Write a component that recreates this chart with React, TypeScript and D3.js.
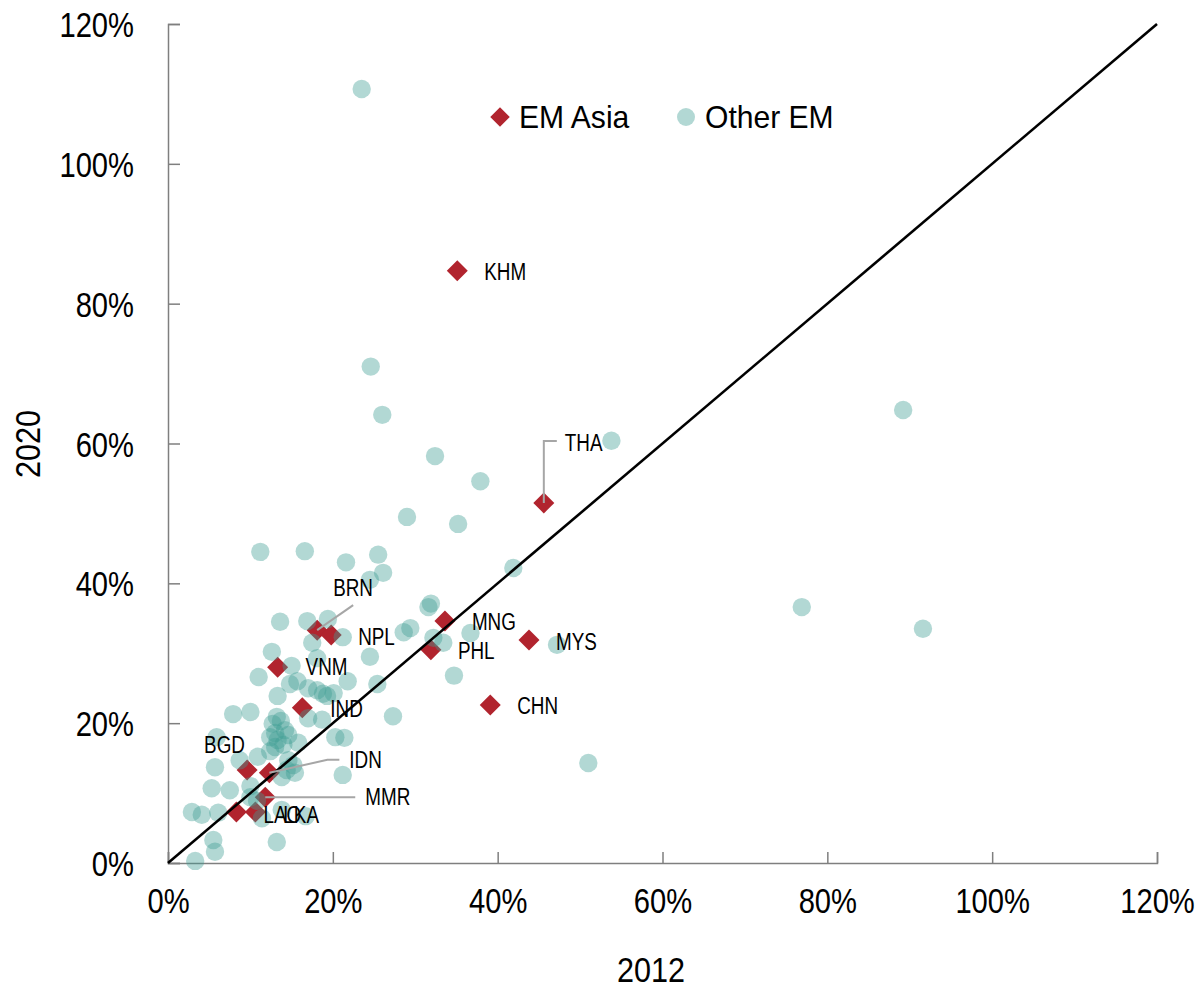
import React, { useEffect, useRef } from "react";
import * as d3 from "d3";

// EM Asia economies: 2012 vs 2020 (%)
const asiaCodes = ["KHM", "THA", "MNG", "MYS", "PHL", "CHN", "BRN", "NPL", "VNM", "IND", "BGD", "IDN", "MMR", "LAO", "LKA"];
const asia2012 = [35.1, 45.6, 33.6, 43.8, 31.9, 39.1, 18.1, 19.8, 13.3, 16.3, 9.6, 12.3, 11.8, 8.3, 10.6];
const asia2020 = [84.7, 51.5, 34.6, 31.9, 30.5, 22.6, 33.3, 32.6, 28.0, 22.2, 13.3, 12.9, 9.4, 7.3, 7.3];

// Other emerging markets: 2012 vs 2020 (%)
const other2012 = [
  23.5, 24.6, 26.0, 53.8, 89.2, 32.4, 37.9, 29.0, 35.2, 11.2, 16.6, 21.6, 25.5, 26.1, 24.5, 41.9, 76.9, 91.6, 51.0, 47.2,
  34.7, 27.3, 36.7, 31.6, 31.9, 29.4, 28.6, 32.2, 33.4, 25.4,
  13.6, 16.9, 19.4, 21.2, 17.5, 12.6, 18.1, 15.0, 11.0, 24.5, 21.8, 15.7, 14.8, 17.0, 18.1, 18.8, 19.3, 20.1, 13.3, 7.9,
  10.0, 13.2, 13.7, 12.7, 14.2, 13.0, 12.4, 13.3, 14.6, 17.0, 18.7, 20.3, 21.4, 15.8, 5.9, 13.0, 14.0, 8.7, 10.9, 12.4,
  14.6, 15.2, 14.4, 15.4, 13.8, 21.2, 5.7, 5.3, 7.5, 10.0, 10.0, 10.8, 2.9, 4.1, 6.1, 13.8, 16.7, 11.4, 5.5, 5.7,
  3.3, 13.2,
];
const other2020 = [
  110.7, 71.0, 64.1, 60.4, 64.8, 58.2, 54.6, 49.5, 48.5, 44.5, 44.6, 43.0, 44.1, 41.5, 40.5, 42.2, 36.6, 33.5, 14.3, 31.2,
  26.8, 21.0, 32.9, 36.6, 37.1, 33.6, 33.0, 32.2, 31.5, 25.6,
  34.5, 34.6, 34.9, 32.3, 31.5, 30.2, 29.3, 28.2, 26.6, 29.5, 26.0, 26.0, 25.6, 25.0, 24.7, 24.2, 23.9, 24.3, 23.9, 21.3,
  21.6, 20.9, 20.3, 19.9, 19.0, 18.6, 18.0, 17.6, 18.3, 20.7, 20.5, 18.0, 17.9, 17.2, 18.0, 16.6, 16.9, 14.7, 15.2, 16.0,
  14.7, 14.0, 13.3, 12.9, 12.3, 12.6, 13.7, 10.7, 10.4, 11.0, 9.4, 8.9, 7.3, 6.9, 7.2, 7.6, 6.7, 6.4, 3.3, 1.6,
  0.3, 3.0,
];

const tickValues = [0, 20, 40, 60, 80, 100, 120];
const seriesNames = ["EM Asia", "Other EM"];
const xTitle = "2012";
const yTitle = "2020";

// Label placement (pixel offsets from the marker) and optional leader elbows
type LabelLayout = { dx: number; dy: number; leader?: [number, number][] };
const labelLayout: Record<string, LabelLayout> = {
  KHM: { dx: 27, dy: 1 },
  THA: { dx: 21, dy: -60, leader: [[0, 0], [0, -62], [13, -62]] },
  MNG: { dx: 27, dy: 1 },
  MYS: { dx: 27, dy: 2 },
  PHL: { dx: 27, dy: 1 },
  CHN: { dx: 27, dy: 1 },
  BRN: { dx: 16, dy: -42, leader: [[0, 0], [36, -25]] },
  NPL: { dx: 27, dy: 2 },
  VNM: { dx: 28, dy: 0 },
  IND: { dx: 28, dy: 1 },
  BGD: { dx: -43, dy: -25 },
  IDN: { dx: 80, dy: -13, leader: [[0, 0], [58, -13], [70, -13]] },
  MMR: { dx: 100, dy: 0, leader: [[0, 0], [90, 0]] },
  LAO: { dx: 27, dy: 3 },
  LKA: { dx: 28, dy: 3 },
};

const W = 1201;
const H = 990;
const FONT = "'Liberation Sans', Arial, sans-serif";
const RED = "#b1242e";
const TEAL = "#3f9e94";

// Horizontally condense a text selection about its own x anchor
function condense(sel: d3.Selection<any, any, any, any>, s: number) {
  sel.each(function () {
    const t = d3.select(this as SVGTextElement);
    const x = +(t.attr("x") || 0);
    t.attr("x", x / s).attr("transform", `scale(${s},1)`);
  });
}

export default function App() {
  const ref = useRef<SVGSVGElement>(null);

  useEffect(() => {
    const svg = d3.select(ref.current);
    svg.selectAll("*").remove();

    const x = d3.scaleLinear().domain([0, 120]).range([168, 1157]);
    const y = d3.scaleLinear().domain([0, 120]).range([863, 24]);

    // Axes
    const xAxis = svg
      .append("g")
      .attr("transform", `translate(0,${y(0)})`)
      .call(
        d3.axisBottom(x).tickValues(tickValues).tickSize(-11).tickPadding(24).tickFormat((d) => `${d}%`)
      );
    const yAxis = svg
      .append("g")
      .attr("transform", `translate(${x(0)},0)`)
      .call(
        d3.axisLeft(y).tickValues(tickValues).tickSize(-12).tickPadding(34).tickFormat((d) => `${d}%`)
      );
    [xAxis, yAxis].forEach((g) => {
      g.select(".domain").attr("stroke", "#7f7f7f").attr("stroke-width", 1.5);
      g.selectAll(".tick line").attr("stroke", "#7f7f7f").attr("stroke-width", 1.5);
      const t = g
        .selectAll(".tick text")
        .attr("font-family", FONT)
        .attr("font-size", 36)
        .attr("fill", "#000");
      condense(t, 0.81);
    });
    yAxis.selectAll(".tick text").attr("dy", "0.35em");

    // Axis titles
    const xt = svg
      .append("text")
      .attr("x", 651)
      .attr("y", 982)
      .attr("text-anchor", "middle")
      .attr("font-family", FONT)
      .attr("font-size", 36)
      .text(xTitle);
    condense(xt, 0.85);
    svg
      .append("text")
      .attr("transform", `translate(40,444) rotate(-90) scale(0.85,1)`)
      .attr("text-anchor", "middle")
      .attr("font-family", FONT)
      .attr("font-size", 36)
      .text(yTitle);

    const asia = asiaCodes.map((c, i) => ({ code: c, x: asia2012[i], y: asia2020[i] }));
    const others = other2012.map((v, i) => ({ x: v, y: other2020[i] }));

    const diamond = d3.symbol().type(d3.symbolSquare).size(220);

    // EM Asia diamonds
    svg
      .append("g")
      .selectAll("path")
      .data(asia)
      .join("path")
      .attr("d", diamond)
      .attr("transform", (d) => `translate(${x(d.x)},${y(d.y)}) rotate(45)`)
      .attr("fill", RED);

    // Other EM circles
    svg
      .append("g")
      .selectAll("circle")
      .data(others)
      .join("circle")
      .attr("cx", (d) => x(d.x))
      .attr("cy", (d) => y(d.y))
      .attr("r", 9.2)
      .attr("fill", TEAL)
      .attr("fill-opacity", 0.4);

    // 45-degree reference line
    svg
      .append("line")
      .attr("x1", x(0))
      .attr("y1", y(0))
      .attr("x2", x(120))
      .attr("y2", y(120))
      .attr("stroke", "#000")
      .attr("stroke-width", 2.6);

    // Leader lines and labels
    const lab = svg.append("g");
    asia.forEach((d) => {
      const l = labelLayout[d.code];
      const px = x(d.x);
      const py = y(d.y);
      if (l.leader) {
        lab
          .append("path")
          .attr("d", d3.line()(l.leader.map(([a, b]) => [px + a, py + b]) as [number, number][]))
          .attr("fill", "none")
          .attr("stroke", "#a6a6a6")
          .attr("stroke-width", 2);
      }
      const t = lab
        .append("text")
        .attr("x", px + l.dx)
        .attr("y", py + l.dy)
        .attr("dy", "0.35em")
        .attr("font-family", FONT)
        .attr("font-size", 23)
        .attr("fill", "#000")
        .text(d.code);
      condense(t, 0.82);
    });

    // Legend
    const leg = svg.append("g").attr("font-family", FONT).attr("font-size", 32);
    leg
      .append("path")
      .attr("d", d3.symbol().type(d3.symbolSquare).size(190)())
      .attr("transform", "translate(500,117) rotate(45)")
      .attr("fill", RED);
    const l1 = leg.append("text").attr("x", 519).attr("y", 117).attr("dy", "0.35em").text(seriesNames[0]);
    leg
      .append("circle")
      .attr("cx", 686)
      .attr("cy", 117)
      .attr("r", 9)
      .attr("fill", TEAL)
      .attr("fill-opacity", 0.4);
    const l2 = leg.append("text").attr("x", 705).attr("y", 117).attr("dy", "0.35em").text(seriesNames[1]);
    condense(l1, 0.94);
    condense(l2, 0.94);
  }, []);

  return (
    <svg
      ref={ref}
      width={W}
      height={H}
      style={{ position: "absolute", left: 0, top: 0, background: "#fff" }}
    />
  );
}
